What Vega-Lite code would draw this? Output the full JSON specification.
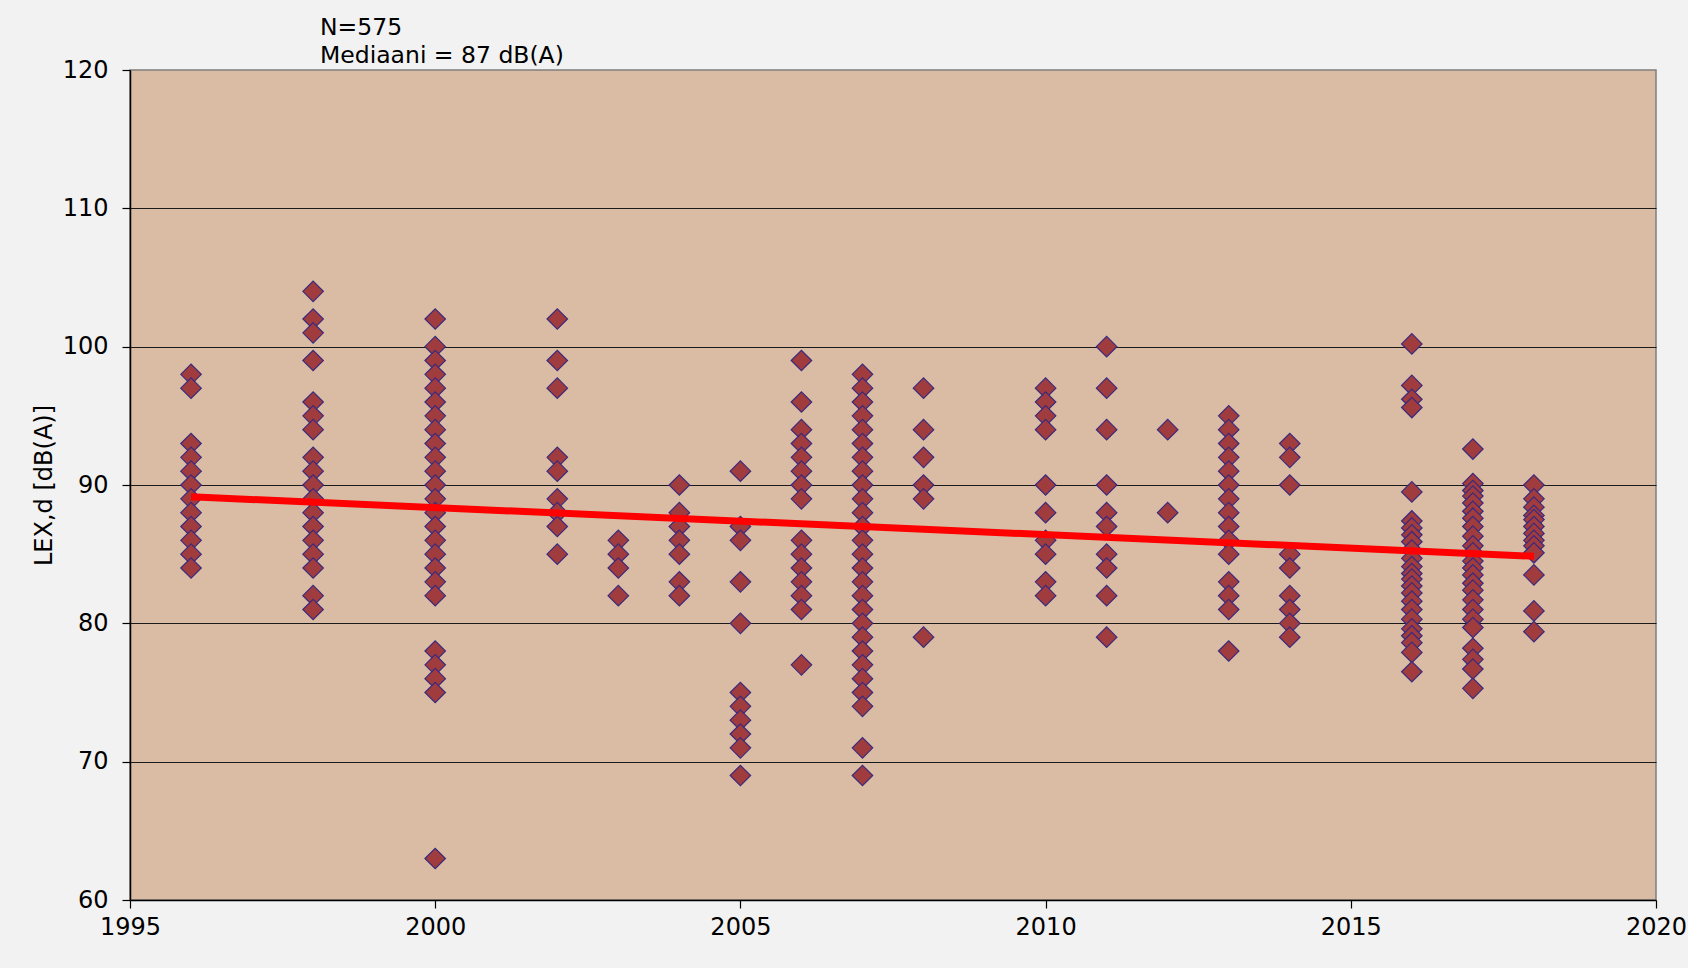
{
  "$schema": "https://vega.github.io/schema/vega-lite/v6.json",
  "autosize": "none",
  "padding": {"left": 130, "top": 70, "right": 32, "bottom": 68},
  "width": 1526,
  "height": 830,
  "background": "#f2f2f2",
  "config": {
    "font": "DejaVu Sans",
    "view": {"fill": "#d9bca3", "stroke": "#7f7f7f", "strokeWidth": 1.5}
  },
  "title": {
    "text": ["N=575", "Mediaani = 87 dB(A)"],
    "anchor": "start",
    "frame": "group",
    "dx": 190,
    "offset": -9,
    "fontSize": 23.5,
    "fontWeight": "normal",
    "color": "#000000",
    "lineHeight": 28
  },
  "datasets": {
    "points": [
      {"year": 1996, "lex": 98}, {"year": 1996, "lex": 97}, {"year": 1996, "lex": 93}, {"year": 1996, "lex": 92}, {"year": 1996, "lex": 91}, {"year": 1996, "lex": 90}, {"year": 1996, "lex": 89}, {"year": 1996, "lex": 88}, {"year": 1996, "lex": 87}, {"year": 1996, "lex": 86}, {"year": 1996, "lex": 85}, {"year": 1996, "lex": 84},
      {"year": 1998, "lex": 104}, {"year": 1998, "lex": 102}, {"year": 1998, "lex": 101}, {"year": 1998, "lex": 99}, {"year": 1998, "lex": 96}, {"year": 1998, "lex": 95}, {"year": 1998, "lex": 94}, {"year": 1998, "lex": 92}, {"year": 1998, "lex": 91}, {"year": 1998, "lex": 90}, {"year": 1998, "lex": 89}, {"year": 1998, "lex": 88}, {"year": 1998, "lex": 87}, {"year": 1998, "lex": 86}, {"year": 1998, "lex": 85}, {"year": 1998, "lex": 84}, {"year": 1998, "lex": 82}, {"year": 1998, "lex": 81},
      {"year": 2000, "lex": 102}, {"year": 2000, "lex": 100}, {"year": 2000, "lex": 99}, {"year": 2000, "lex": 98}, {"year": 2000, "lex": 97}, {"year": 2000, "lex": 96}, {"year": 2000, "lex": 95}, {"year": 2000, "lex": 94}, {"year": 2000, "lex": 93}, {"year": 2000, "lex": 92}, {"year": 2000, "lex": 91}, {"year": 2000, "lex": 90}, {"year": 2000, "lex": 89}, {"year": 2000, "lex": 88}, {"year": 2000, "lex": 87}, {"year": 2000, "lex": 86}, {"year": 2000, "lex": 85}, {"year": 2000, "lex": 84}, {"year": 2000, "lex": 83}, {"year": 2000, "lex": 82}, {"year": 2000, "lex": 78}, {"year": 2000, "lex": 77}, {"year": 2000, "lex": 76}, {"year": 2000, "lex": 75}, {"year": 2000, "lex": 63},
      {"year": 2002, "lex": 102}, {"year": 2002, "lex": 99}, {"year": 2002, "lex": 97}, {"year": 2002, "lex": 92}, {"year": 2002, "lex": 91}, {"year": 2002, "lex": 89}, {"year": 2002, "lex": 88}, {"year": 2002, "lex": 87}, {"year": 2002, "lex": 85},
      {"year": 2003, "lex": 86}, {"year": 2003, "lex": 85}, {"year": 2003, "lex": 84}, {"year": 2003, "lex": 82},
      {"year": 2004, "lex": 90}, {"year": 2004, "lex": 88}, {"year": 2004, "lex": 87}, {"year": 2004, "lex": 86}, {"year": 2004, "lex": 85}, {"year": 2004, "lex": 83}, {"year": 2004, "lex": 82},
      {"year": 2005, "lex": 91}, {"year": 2005, "lex": 87}, {"year": 2005, "lex": 86}, {"year": 2005, "lex": 83}, {"year": 2005, "lex": 80}, {"year": 2005, "lex": 75}, {"year": 2005, "lex": 74}, {"year": 2005, "lex": 73}, {"year": 2005, "lex": 72}, {"year": 2005, "lex": 71}, {"year": 2005, "lex": 69},
      {"year": 2006, "lex": 99}, {"year": 2006, "lex": 96}, {"year": 2006, "lex": 94}, {"year": 2006, "lex": 93}, {"year": 2006, "lex": 92}, {"year": 2006, "lex": 91}, {"year": 2006, "lex": 90}, {"year": 2006, "lex": 89}, {"year": 2006, "lex": 86}, {"year": 2006, "lex": 85}, {"year": 2006, "lex": 84}, {"year": 2006, "lex": 83}, {"year": 2006, "lex": 82}, {"year": 2006, "lex": 81}, {"year": 2006, "lex": 77},
      {"year": 2007, "lex": 98}, {"year": 2007, "lex": 97}, {"year": 2007, "lex": 96}, {"year": 2007, "lex": 95}, {"year": 2007, "lex": 94}, {"year": 2007, "lex": 93}, {"year": 2007, "lex": 92}, {"year": 2007, "lex": 91}, {"year": 2007, "lex": 90}, {"year": 2007, "lex": 89}, {"year": 2007, "lex": 88}, {"year": 2007, "lex": 87}, {"year": 2007, "lex": 86}, {"year": 2007, "lex": 85}, {"year": 2007, "lex": 84}, {"year": 2007, "lex": 83}, {"year": 2007, "lex": 82}, {"year": 2007, "lex": 81}, {"year": 2007, "lex": 80}, {"year": 2007, "lex": 79}, {"year": 2007, "lex": 78}, {"year": 2007, "lex": 77}, {"year": 2007, "lex": 76}, {"year": 2007, "lex": 75}, {"year": 2007, "lex": 74}, {"year": 2007, "lex": 71}, {"year": 2007, "lex": 69},
      {"year": 2008, "lex": 97}, {"year": 2008, "lex": 94}, {"year": 2008, "lex": 92}, {"year": 2008, "lex": 90}, {"year": 2008, "lex": 89}, {"year": 2008, "lex": 79},
      {"year": 2010, "lex": 97}, {"year": 2010, "lex": 96}, {"year": 2010, "lex": 95}, {"year": 2010, "lex": 94}, {"year": 2010, "lex": 90}, {"year": 2010, "lex": 88}, {"year": 2010, "lex": 86}, {"year": 2010, "lex": 85}, {"year": 2010, "lex": 83}, {"year": 2010, "lex": 82},
      {"year": 2011, "lex": 100}, {"year": 2011, "lex": 97}, {"year": 2011, "lex": 94}, {"year": 2011, "lex": 90}, {"year": 2011, "lex": 88}, {"year": 2011, "lex": 87}, {"year": 2011, "lex": 85}, {"year": 2011, "lex": 84}, {"year": 2011, "lex": 82}, {"year": 2011, "lex": 79},
      {"year": 2012, "lex": 94}, {"year": 2012, "lex": 88},
      {"year": 2013, "lex": 95}, {"year": 2013, "lex": 94}, {"year": 2013, "lex": 93}, {"year": 2013, "lex": 92}, {"year": 2013, "lex": 91}, {"year": 2013, "lex": 90}, {"year": 2013, "lex": 89}, {"year": 2013, "lex": 88}, {"year": 2013, "lex": 87}, {"year": 2013, "lex": 86}, {"year": 2013, "lex": 85}, {"year": 2013, "lex": 83}, {"year": 2013, "lex": 82}, {"year": 2013, "lex": 81}, {"year": 2013, "lex": 78},
      {"year": 2014, "lex": 93}, {"year": 2014, "lex": 92}, {"year": 2014, "lex": 90}, {"year": 2014, "lex": 85}, {"year": 2014, "lex": 84}, {"year": 2014, "lex": 82}, {"year": 2014, "lex": 81}, {"year": 2014, "lex": 80}, {"year": 2014, "lex": 79},
      {"year": 2016, "lex": 100.2}, {"year": 2016, "lex": 97.2}, {"year": 2016, "lex": 96.2}, {"year": 2016, "lex": 95.6}, {"year": 2016, "lex": 89.5}, {"year": 2016, "lex": 87.4}, {"year": 2016, "lex": 86.9}, {"year": 2016, "lex": 86.4}, {"year": 2016, "lex": 85.9}, {"year": 2016, "lex": 85.3}, {"year": 2016, "lex": 84.7}, {"year": 2016, "lex": 84.1}, {"year": 2016, "lex": 83.6}, {"year": 2016, "lex": 83.2}, {"year": 2016, "lex": 82.7}, {"year": 2016, "lex": 82.2}, {"year": 2016, "lex": 81.6}, {"year": 2016, "lex": 81.0}, {"year": 2016, "lex": 80.3}, {"year": 2016, "lex": 79.6}, {"year": 2016, "lex": 79.1}, {"year": 2016, "lex": 78.6}, {"year": 2016, "lex": 77.9}, {"year": 2016, "lex": 76.5},
      {"year": 2017, "lex": 92.6}, {"year": 2017, "lex": 90.1}, {"year": 2017, "lex": 89.6}, {"year": 2017, "lex": 89.2}, {"year": 2017, "lex": 88.7}, {"year": 2017, "lex": 88.1}, {"year": 2017, "lex": 87.6}, {"year": 2017, "lex": 87.0}, {"year": 2017, "lex": 86.3}, {"year": 2017, "lex": 85.6}, {"year": 2017, "lex": 85.1}, {"year": 2017, "lex": 84.5}, {"year": 2017, "lex": 84.0}, {"year": 2017, "lex": 83.5}, {"year": 2017, "lex": 82.9}, {"year": 2017, "lex": 82.4}, {"year": 2017, "lex": 81.7}, {"year": 2017, "lex": 81.0}, {"year": 2017, "lex": 80.3}, {"year": 2017, "lex": 79.7}, {"year": 2017, "lex": 78.2}, {"year": 2017, "lex": 77.4}, {"year": 2017, "lex": 76.7}, {"year": 2017, "lex": 75.3},
      {"year": 2018, "lex": 90.0}, {"year": 2018, "lex": 89.0}, {"year": 2018, "lex": 88.4}, {"year": 2018, "lex": 87.8}, {"year": 2018, "lex": 87.5}, {"year": 2018, "lex": 87.0}, {"year": 2018, "lex": 86.5}, {"year": 2018, "lex": 86.0}, {"year": 2018, "lex": 85.6}, {"year": 2018, "lex": 85.1}, {"year": 2018, "lex": 83.5}, {"year": 2018, "lex": 80.9}, {"year": 2018, "lex": 79.4}
    ],
    "trend": [
      {"year": 1996, "lex": 89.15},
      {"year": 2018, "lex": 84.85}
    ]
  },
  "layer": [
    {
      "data": {"name": "points"},
      "mark": {"type": "point", "shape": "diamond", "filled": true, "size": 420, "fill": "#a03c3e", "stroke": "#3b2a7e", "strokeWidth": 1.2, "opacity": 1},
      "encoding": {
        "x": {
          "field": "year", "type": "quantitative",
          "scale": {"domain": [1995, 2020], "nice": false, "zero": false},
          "axis": {
            "title": null, "values": [1995, 2000, 2005, 2010, 2015, 2020], "format": "d",
            "grid": false, "domainColor": "#000000", "domainWidth": 1.5,
            "tickColor": "#000000", "tickSize": 8, "tickWidth": 1.2,
            "labelFontSize": 24, "labelColor": "#000000", "labelPadding": 7, "labelFlush": false
          }
        },
        "y": {
          "field": "lex", "type": "quantitative",
          "scale": {"domain": [60, 120], "nice": false, "zero": false},
          "axis": {
            "title": "LEX,d [dB(A)]", "titleFontSize": 24, "titleFontWeight": "normal", "titleColor": "#000000", "titlePadding": 6,
            "values": [60, 70, 80, 90, 100, 110, 120],
            "grid": true, "gridColor": "#1a1a1a", "gridWidth": 1.2,
            "gridOpacity": {"condition": {"test": "datum.value === 60 || datum.value === 120", "value": 0}, "value": 1},
            "domainColor": "#000000", "domainWidth": 1.5,
            "tickColor": "#000000", "tickSize": 8, "tickWidth": 1.2,
            "labelFontSize": 24, "labelColor": "#000000", "labelPadding": 14
          }
        }
      }
    },
    {
      "data": {"name": "trend"},
      "mark": {"type": "line", "color": "#ff0000", "strokeWidth": 7},
      "encoding": {
        "x": {"field": "year", "type": "quantitative"},
        "y": {"field": "lex", "type": "quantitative"}
      }
    }
  ]
}
